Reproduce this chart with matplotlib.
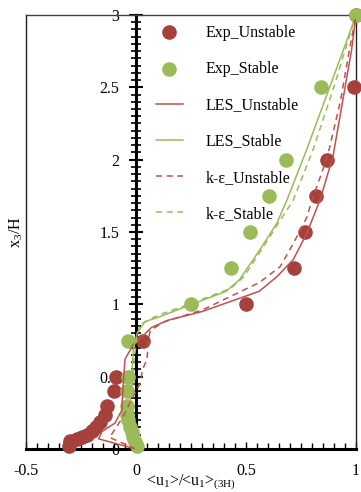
import matplotlib
matplotlib.use('Agg')
import matplotlib.pyplot as plt
from matplotlib.ticker import MultipleLocator

plt.rcParams['font.family'] = 'Liberation Serif'
plt.rcParams['mathtext.fontset'] = 'custom'
plt.rcParams['mathtext.rm'] = 'Liberation Serif'
plt.rcParams['mathtext.it'] = 'Liberation Serif:italic'

# Experimental points
exp_uns_x = [1.0, 0.99, 0.87, 0.82, 0.77, 0.72, 0.50, 0.03, -0.09, -0.10, -0.13, -0.14,
             -0.165, -0.18, -0.20, -0.225, -0.245, -0.27, -0.30, -0.305]
exp_uns_y = [3.0, 2.5, 2.0, 1.75, 1.5, 1.25, 1.0, 0.75, 0.5, 0.4, 0.3, 0.235,
             0.19, 0.15, 0.125, 0.10, 0.085, 0.07, 0.055, 0.02]
exp_sta_x = [1.0, 0.84, 0.68, 0.605, 0.52, 0.43, 0.25, -0.035, -0.035, -0.04, -0.04,
             -0.04, -0.035, -0.027, -0.02, -0.013, -0.005, 0.005]
exp_sta_y = [3.0, 2.5, 2.0, 1.75, 1.5, 1.25, 1.0, 0.75, 0.5, 0.4, 0.3,
             0.235, 0.2, 0.15, 0.12, 0.085, 0.05, 0.02]

# LES profiles
les_uns_x = [0.0, -0.17, -0.155, -0.095, -0.064, -0.06, -0.05, -0.013, 0.01, 0.07, 0.145,
             0.3, 0.56, 0.64, 0.715, 0.776, 0.836, 0.895, 0.94, 0.98, 1.0]
les_uns_y = [0.0, 0.07, 0.12, 0.18, 0.27, 0.41, 0.62, 0.72, 0.75, 0.84, 0.89,
             0.95, 1.09, 1.19, 1.31, 1.49, 1.72, 2.02, 2.41, 2.76, 3.0]
les_sta_x = [0.0, -0.02, -0.03, -0.028, -0.02, -0.013, 0.005, 0.04, 0.1, 0.245,
             0.41, 0.47, 0.56, 0.64, 0.686, 0.776, 0.88, 0.96, 1.0]
les_sta_y = [0.0, 0.05, 0.15, 0.3, 0.46, 0.68, 0.80, 0.88, 0.91, 0.995,
             1.09, 1.17, 1.37, 1.56, 1.72, 2.07, 2.5, 2.83, 3.0]

# k-epsilon profiles
ke_uns_x = [0.0, -0.12, -0.06, -0.014, 0.018, 0.03, 0.05, 0.055, 0.064, 0.13, 0.3,
            0.56, 0.655, 0.715, 0.776, 0.80, 0.87, 0.93, 0.97, 1.0]
ke_uns_y = [0.0, 0.08, 0.22, 0.36, 0.45, 0.55, 0.62, 0.73, 0.82, 0.88, 0.96,
            1.15, 1.26, 1.42, 1.6, 1.72, 2.02, 2.41, 2.76, 3.0]
ke_sta_x = [0.0, -0.015, -0.02, -0.015, -0.01, 0.005, 0.018, 0.08, 0.11, 0.24,
            0.43, 0.49, 0.58, 0.655, 0.715, 0.805, 0.895, 0.965, 1.0]
ke_sta_y = [0.0, 0.05, 0.2, 0.4, 0.6, 0.78, 0.86, 0.91, 0.93, 1.0,
            1.11, 1.19, 1.40, 1.58, 1.72, 2.07, 2.48, 2.83, 3.0]

red_pt = '#A5403D'
green_pt = '#9BBB59'
red_ln = '#C0504D'
green_ln = '#9BBB59'

fig = plt.figure(figsize=(3.61, 4.92), dpi=100)
ax = fig.add_axes([26/361, 1 - 449/492, 330/361, 434/492])

ax.scatter(exp_uns_x, exp_uns_y, s=90, color=red_pt, label='Exp_Unstable', zorder=3, clip_on=False)
ax.scatter(exp_sta_x, exp_sta_y, s=90, color=green_pt, label='Exp_Stable', zorder=3, clip_on=False)
ax.plot(les_uns_x, les_uns_y, color=red_ln, lw=1.1, label='LES_Unstable', zorder=4)
ax.plot(les_sta_x, les_sta_y, color=green_ln, lw=1.1, label='LES_Stable', zorder=4)
ax.plot(ke_uns_x, ke_uns_y, color=red_ln, lw=1.1, ls=(0, (4, 3)), label='k-ε_Unstable', zorder=4)
ax.plot(ke_sta_x, ke_sta_y, color=green_ln, lw=1.1, ls=(0, (4, 3)), label='k-ε_Stable', zorder=4)

ax.set_xlim(-0.5, 1)
ax.set_ylim(0, 3)

# y axis sits at x = 0, box edge at x = -0.5
ax.spines['left'].set_position(('data', 0))
ax.spines['left'].set_linewidth(2.2)
ax.spines['bottom'].set_linewidth(2.2)
ax.spines['top'].set_linewidth(1.0)
ax.spines['top'].set_color('#404040')
ax.spines['right'].set_linewidth(1.0)
ax.spines['right'].set_color('#202020')
ax.axvline(-0.5, color='#202020', lw=1.0, clip_on=False)

ax.xaxis.set_minor_locator(MultipleLocator(0.05))
ax.yaxis.set_minor_locator(MultipleLocator(0.05))
ax.set_xticks([-0.5, 0, 0.5, 1])
ax.set_xticklabels(['-0.5', '0', '0.5', '1'])
ax.set_yticks([0, 0.5, 1, 1.5, 2, 2.5, 3])
ax.set_yticklabels(['0', '0.5', '1', '1.5', '2', '2.5', '3'])

ax.tick_params(axis='x', which='major', direction='in', length=5, width=1, labelsize=11.5, pad=10)
ax.tick_params(axis='x', which='minor', direction='in', length=4, width=1)
ax.tick_params(axis='y', which='major', direction='inout', length=10, width=1.5, labelsize=11.5, pad=7)
ax.tick_params(axis='y', which='minor', direction='inout', length=7, width=1.2)

ax.set_xlabel(r'<u$_1$>/<u$_1$>$_{\mathrm{(3H)}}$', fontsize=11.5, labelpad=-4)
ax.text(-0.545, 1.5, 'x$_3$/H', rotation=90, fontsize=11.5, ha='center', va='center')

leg = ax.legend(loc='upper left', bbox_to_anchor=(0.35, 1.011), frameon=False, fontsize=11.5,
                labelspacing=1.27, handlelength=1.7, handletextpad=1.4, scatterpoints=1)

plt.savefig('out.png', dpi=100)
